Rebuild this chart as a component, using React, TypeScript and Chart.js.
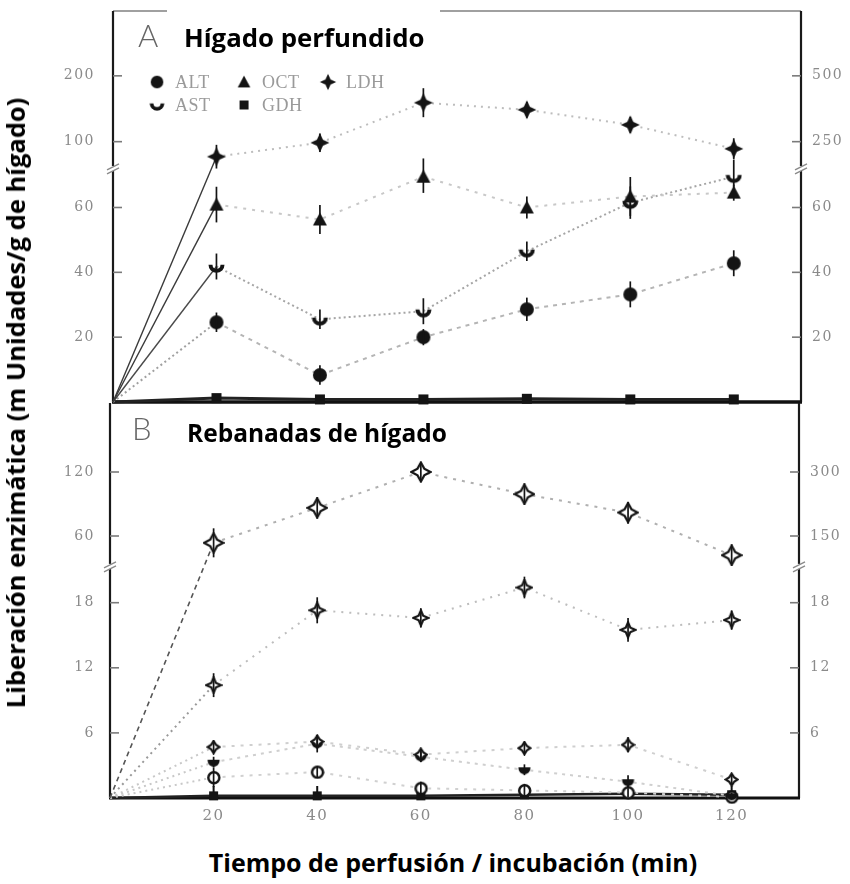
import React, { useEffect, useRef } from 'react';
import { Chart, registerables, LinearScale } from 'chart.js';

Chart.register(...registerables);

// ---------- data ----------
const TIMES = [0, 20, 40, 60, 80, 100, 120];
const X_TICKS = [20, 40, 60, 80, 100, 120];
const LEGEND_LABELS = ['ALT', 'OCT', 'LDH', 'AST', 'GDH'];

// Panel A (perfused liver)
const A_ALT = [0, 24.6, 8.3, 20, 28.6, 33.2, 42.8];
const A_AST = [0, 41.8, 25.5, 28, 46.5, 61.5, 69.5];
const A_OCT = [0, 60.9, 56.3, 69.5, 60, 63.4, 64.6];
const A_LDH = [0, 193, 246, 398, 371, 314, 223];
const A_GDH = [0, 1.2, 0.8, 0.8, 1.0, 0.8, 0.8];
const A_ALT_ERR = [0, 3, 3, 2.5, 3.6, 4, 4];
const A_AST_ERR = [0, 4, 3, 4, 3, 5, 3];
const A_OCT_ERR = [0, 5.5, 4.5, 5, 3.4, 6, 2.5];
const A_LDH_ERR = [0, 45, 35, 55, 30, 30, 40];
const A_LEFT_TICKS = [20, 40, 60, 100, 200];
const A_RIGHT_TICKS = [20, 40, 60, 250, 500];

// Panel B (liver slices)
const B_LDH = [0, 134, 216, 300, 248, 205, 105];
const B_OCT = [0, 10.4, 17.3, 16.6, 19.4, 15.5, 16.4];
const B_DIA = [0, 4.7, 5.2, 4.0, 4.6, 4.9, 1.7];
const B_AST = [0, 3.3, 5.0, 3.8, 2.6, 1.5, 0.2];
const B_ALT = [0, 1.9, 2.4, 0.9, 0.7, 0.5, 0.1];
const B_GDH = [0, 0.2, 0.2, 0.2, 0.3, 0.4, 0.3];
const B_LDH_ERR = [0, 34, 25, 23, 25, 25, 25];
const B_OCT_ERR = [0, 1.1, 1.2, 0.9, 1.0, 1.1, 0.9];
const B_DIA_ERR = [0, 0.6, 0.6, 0.5, 0.6, 0.7, 0.5];
const B_AST_ERR = [0, 0.5, 0.8, 0.5, 0.5, 0.6, 0];
const B_ALT_ERR = [0, 0.9, 0.5, 0.6, 0.6, 0.4, 0.4];
const B_LEFT_TICKS = [6, 12, 18, 60, 120];
const B_RIGHT_TICKS = [6, 12, 18, 150, 300];

// broken-axis configurations
const BRK_A_L = { qMax: 392, lowK: 3.25, lowMax: 71.7, upV1: 100, upQ1: 261, upV2: 200, upQ2: 327 };
const BRK_A_R = { qMax: 392, lowK: 3.25, lowMax: 71.7, upV1: 250, upQ1: 261, upV2: 500, upQ2: 327 };
const BRK_B_L = { qMax: 395, lowK: 10.85, lowMax: 21.3, upV1: 60, upQ1: 262, upV2: 120, upQ2: 326 };
const BRK_B_R = { qMax: 395, lowK: 10.85, lowMax: 21.3, upV1: 150, upQ1: 262, upV2: 300, upQ2: 326 };

// ---------- broken linear scale ----------
class BrokenScale extends LinearScale {
  static id = 'broken';
  static defaults = LinearScale.defaults;
  determineDataLimits() {
    const o: any = (this as any).options;
    (this as any).min = 0;
    (this as any).max = o.qMax;
  }
  buildTicks() {
    const o: any = (this as any).options;
    return (o.tickValues || []).map((v: number) => ({ value: v }));
  }
  mapValue(v: number) {
    const o: any = (this as any).options;
    if (v <= o.lowMax) return v * o.lowK;
    return o.upQ1 + ((v - o.upV1) * (o.upQ2 - o.upQ1)) / (o.upV2 - o.upV1);
  }
  getPixelForValue(v: any) {
    if (v === null || v === undefined || isNaN(v)) return NaN;
    const o: any = (this as any).options;
    return (this as any).getPixelForDecimal(this.mapValue(v) / o.qMax);
  }
  getValueForPixel(p: number) {
    const o: any = (this as any).options;
    return (this as any).getDecimalForPixel(p) * o.qMax;
  }
}
Chart.register(BrokenScale as any);

// ---------- markers ----------
function mk(w: number, h: number, draw: (g: CanvasRenderingContext2D, w: number, h: number) => void) {
  const c = document.createElement('canvas');
  c.width = w;
  c.height = h;
  const g = c.getContext('2d') as CanvasRenderingContext2D;
  draw(g, w, h);
  return c;
}
const INK = '#141414';
function dot(d: number) {
  const s = d + 2;
  return mk(s, s, (g) => { g.beginPath(); g.arc(s / 2, s / 2, d / 2, 0, Math.PI * 2); g.fillStyle = INK; g.fill(); });
}
function ring(d: number, lw: number) {
  const s = d + lw + 2;
  return mk(s, s, (g) => {
    g.beginPath(); g.arc(s / 2, s / 2, d / 2, 0, Math.PI * 2);
    g.fillStyle = '#fff'; g.fill(); g.lineWidth = lw; g.strokeStyle = INK; g.stroke();
  });
}
function tri(d: number) {
  return mk(d, d, (g, w, h) => {
    g.beginPath(); g.moveTo(w / 2, 1); g.lineTo(w - 1, h - 2); g.lineTo(1, h - 2); g.closePath();
    g.fillStyle = INK; g.fill();
  });
}
function sq(d: number) {
  return mk(d, d, (g, w, h) => { g.fillStyle = INK; g.fillRect(1, 1, w - 2, h - 2); });
}
function star(d: number, inner: number, filled: boolean) {
  return mk(d, d, (g, w) => {
    const c = w / 2, r = w / 2 - 1.5, ri = r * inner;
    g.beginPath();
    for (let i = 0; i < 8; i++) {
      const a = -Math.PI / 2 + (i * Math.PI) / 4;
      const rr = i % 2 === 0 ? r : ri;
      const px = c + rr * Math.cos(a), py = c + rr * Math.sin(a);
      if (i === 0) g.moveTo(px, py); else g.lineTo(px, py);
    }
    g.closePath();
    if (filled) { g.fillStyle = INK; g.fill(); }
    else { g.fillStyle = '#fff'; g.fill(); g.lineWidth = 2.2; g.strokeStyle = INK; g.stroke(); }
  });
}
function cup(d: number, filled: boolean) {
  return mk(d, d, (g, w, h) => {
    const c = w / 2, r = w / 2 - 2.5;
    g.beginPath();
    g.arc(c, h * 0.4, r, 0, Math.PI);
    if (filled) { g.closePath(); g.fillStyle = INK; g.fill(); g.lineWidth = 2; g.strokeStyle = INK; g.stroke(); }
    else { g.lineWidth = 4; g.strokeStyle = INK; g.stroke(); }
  });
}

// ---------- helpers ----------
type SegStyle = { dash: number[]; color: string; width: number };
function series(label: string, ys: number[], yAxisID: string, marker: any, first: SegStyle, rest: SegStyle, errors?: number[]) {
  return {
    type: 'line' as const,
    label,
    data: TIMES.map((x, i) => ({ x, y: ys[i] })),
    yAxisID,
    xAxisID: 'x',
    clip: false,
    tension: 0,
    pointStyle: TIMES.map((_, i) => (i === 0 ? false : marker)),
    pointRadius: 7,
    borderColor: rest.color,
    borderWidth: rest.width,
    segment: {
      borderDash: (c: any) => (c.p0DataIndex === 0 ? first.dash : rest.dash),
      borderColor: (c: any) => (c.p0DataIndex === 0 ? first.color : rest.color),
      borderWidth: (c: any) => (c.p0DataIndex === 0 ? first.width : rest.width),
    },
    errors,
  };
}

function yAxis(pos: 'left' | 'right', width: number, pad: number, brk: any, ticks: number[]) {
  return {
    type: 'broken',
    position: pos,
    ...brk,
    tickValues: ticks,
    afterFit: (s: any) => { s.width = width; s.paddingTop = 0; s.paddingBottom = 0; },
    grid: { display: false, drawTicks: false },
    border: { display: false },
    ticks: {
      autoSkip: false,
      padding: pad,
      color: '#8a8a8a',
      font: { family: 'DejaVu Serif', size: 14 },
      callback: (v: any) => String(v),
    },
  };
}

const spacingPlugin = {
  id: 'spacing',
  beforeDraw(chart: any) { chart.ctx.letterSpacing = '1.5px'; },
  afterDraw(chart: any) { chart.ctx.letterSpacing = '0px'; },
};

const errorBarPlugin = {
  id: 'errbars',
  afterDatasetsDraw(chart: any) {
    const ctx = chart.ctx;
    chart.data.datasets.forEach((ds: any, i: number) => {
      if (!ds.errors) return;
      const meta = chart.getDatasetMeta(i);
      const ys = chart.scales[ds.yAxisID];
      ctx.save();
      ctx.strokeStyle = INK;
      ctx.lineWidth = 1.7;
      meta.data.forEach((pt: any, j: number) => {
        const e = ds.errors[j];
        if (!e) return;
        const v = ds.data[j].y;
        ctx.beginPath();
        ctx.moveTo(pt.x, ys.getPixelForValue(Math.max(0, v - e)));
        ctx.lineTo(pt.x, ys.getPixelForValue(v + e));
        ctx.stroke();
      });
      ctx.restore();
    });
  },
};

function makeFramePlugin(topLine: boolean, bottomWidth: number, xTicks: boolean) {
  return {
    id: 'frame',
    beforeDatasetsDraw(chart: any) {
      const { ctx, chartArea: a } = chart;
      const line = (x1: number, y1: number, x2: number, y2: number, col: string, w: number) => {
        ctx.beginPath(); ctx.moveTo(x1, y1); ctx.lineTo(x2, y2); ctx.strokeStyle = col; ctx.lineWidth = w; ctx.stroke();
      };
      ctx.save();
      if (topLine) line(a.left, a.top, a.right, a.top, '#a0a0a0', 2);
      line(a.left, a.top, a.left, a.bottom, '#1a1a1a', 2.2);
      line(a.right, a.top, a.right, a.bottom, '#1a1a1a', 2.2);
      line(a.left - 1, a.bottom, a.right + 1, a.bottom, '#111', bottomWidth);
      ['yL', 'yR'].forEach((id) => {
        const s = chart.scales[id];
        const left = s.position === 'left';
        const x0 = left ? a.left : a.right;
        s.ticks.forEach((t: any) => {
          const y = s.getPixelForValue(t.value);
          line(x0, y, x0 + (left ? 9 : -9), y, '#7a7a7a', 1.6);
        });
        const yb = a.bottom - s.options.lowMax * s.options.lowK;
        ctx.fillStyle = '#fff';
        ctx.fillRect(x0 - 2, yb - 3, 4, 5);
        line(x0 - 6, yb + 1, x0 + 6, yb - 5, '#8a8a8a', 1.4);
        line(x0 - 6, yb + 5, x0 + 6, yb - 1, '#8a8a8a', 1.4);
      });
      if (xTicks) {
        const xs = chart.scales.x;
        xs.ticks.forEach((t: any) => {
          const x = xs.getPixelForValue(t.value);
          line(x, a.bottom, x, a.bottom - 12, '#111', 2);
        });
      }
      ctx.restore();
    },
  };
}

export default function App() {
  const aRef = useRef<HTMLCanvasElement>(null);
  const bRef = useRef<HTMLCanvasElement>(null);

  useEffect(() => {
    const M = {
      aALT: dot(14), aOCT: tri(16), aLDH: star(22, 0.45, true), aAST: cup(17, false), aGDH: sq(12),
      bLDH: star(22, 0.5, false), bOCT: star(18, 0.42, false), bDIA: star(15, 0.55, false),
      bAST: cup(15, true), bALT: ring(11, 2.5), bGDH: sq(11),
    };
    const legendMarkers = [M.aALT, M.aOCT, M.aLDH, M.aAST, M.aGDH];

    const legendPlugin = {
      id: 'innerLegend',
      afterDraw(chart: any) {
        const { ctx, chartArea: a } = chart;
        const pos = [
          [44, 71], [131, 71], [215, 71],
          [44, 94], [131, 94],
        ];
        ctx.save();
        ctx.font = '18px "Liberation Serif"';
        ctx.fillStyle = '#9a9a9a';
        ctx.textBaseline = 'middle';
        ctx.letterSpacing = '0.5px';
        LEGEND_LABELS.forEach((lab, i) => {
          const mx = a.left + pos[i][0], my = a.top + pos[i][1];
          const m = legendMarkers[i];
          const sc = i === 2 ? 0.85 : 0.9;
          ctx.drawImage(m, mx - (m.width * sc) / 2, my - (m.height * sc) / 2, m.width * sc, m.height * sc);
          ctx.fillText(lab, mx + 18, my + 1);
        });
        ctx.restore();
      },
    };

    const solid = (c: string, w = 1.4): SegStyle => ({ dash: [], color: c, width: w });
    const dashed = (d: number[], c: string, w = 2): SegStyle => ({ dash: d, color: c, width: w });

    const chartA = new Chart(aRef.current as HTMLCanvasElement, {
      type: 'line',
      data: {
        datasets: [
          series('LDH', A_LDH, 'yR', M.aLDH, solid('#3a3a3a'), dashed([2, 5], '#bdbdbd'), A_LDH_ERR),
          series('OCT', A_OCT, 'yL', M.aOCT, solid('#3a3a3a'), dashed([3, 6], '#c8c8c8'), A_OCT_ERR),
          series('AST', A_AST, 'yL', M.aAST, solid('#4a4a4a'), dashed([2, 3], '#a5a5a5'), A_AST_ERR),
          series('ALT', A_ALT, 'yL', M.aALT, dashed([2, 3], '#a0a0a0'), dashed([4, 5], '#b5b5b5'), A_ALT_ERR),
          series('GDH', A_GDH, 'yL', M.aGDH, solid('#222', 3), solid('#222', 3)),
        ] as any,
      },
      options: {
        responsive: false,
        maintainAspectRatio: false,
        animation: false,
        events: [],
        layout: { padding: { top: 11, bottom: 9, left: 0, right: 0 } },
        plugins: { legend: { display: false }, tooltip: { enabled: false } },
        scales: {
          x: { type: 'linear', min: 0, max: 133, display: false },
          yL: yAxis('left', 113, 18, BRK_A_L, A_LEFT_TICKS),
          yR: yAxis('right', 49, 11, BRK_A_R, A_RIGHT_TICKS),
        } as any,
      },
      plugins: [spacingPlugin, makeFramePlugin(true, 3.5, false), errorBarPlugin, legendPlugin] as any,
    });

    const chartB = new Chart(bRef.current as HTMLCanvasElement, {
      type: 'line',
      data: {
        datasets: [
          series('LDH', B_LDH, 'yR', M.bLDH, dashed([5, 4], '#555', 1.6), dashed([3, 6], '#b0b0b0'), B_LDH_ERR),
          series('OCT', B_OCT, 'yL', M.bOCT, dashed([2, 4], '#999'), dashed([2, 6], '#bdbdbd'), B_OCT_ERR),
          series('X', B_DIA, 'yL', M.bDIA, dashed([2, 4], '#c8c8c8'), dashed([3, 6], '#cfcfcf'), B_DIA_ERR),
          series('AST', B_AST, 'yL', M.bAST, dashed([2, 4], '#c8c8c8'), dashed([3, 5], '#cfcfcf'), B_AST_ERR),
          series('ALT', B_ALT, 'yL', M.bALT, dashed([2, 4], '#c8c8c8'), dashed([3, 6], '#d0d0d0'), B_ALT_ERR),
          series('GDH', B_GDH, 'yL', M.bGDH, solid('#222', 2.5), solid('#222', 2.5)),
        ] as any,
      },
      options: {
        responsive: false,
        maintainAspectRatio: false,
        animation: false,
        events: [],
        layout: { padding: { top: 11, bottom: 0, left: 0, right: 0 } },
        plugins: { legend: { display: false }, tooltip: { enabled: false } },
        scales: {
          x: {
            type: 'linear', min: 0, max: 133,
            afterBuildTicks: (s: any) => { s.ticks = X_TICKS.map((v) => ({ value: v })); },
            afterFit: (s: any) => { s.height = 44; s.paddingLeft = 0; s.paddingRight = 0; },
            grid: { display: false, drawTicks: false },
            border: { display: false },
            ticks: {
              autoSkip: false, padding: 9, color: '#8a8a8a',
              font: { family: 'DejaVu Serif', size: 15 },
              callback: (v: any) => String(v),
            },
          },
          yL: yAxis('left', 110, 15, BRK_B_L, B_LEFT_TICKS),
          yR: yAxis('right', 51, 11, BRK_B_R, B_RIGHT_TICKS),
        } as any,
      },
      plugins: [spacingPlugin, makeFramePlugin(false, 3, true), errorBarPlugin] as any,
    });

    return () => { chartA.destroy(); chartB.destroy(); };
  }, []);

  const bold = '"Open Sans", "Lato", sans-serif';
  return (
    <div style={{ position: 'absolute', left: 0, top: 0, width: 850, height: 884, background: '#fff', overflow: 'hidden' }}>
      <canvas ref={aRef} width={850} height={412} style={{ position: 'absolute', left: 0, top: 0, width: 850, height: 412 }} />
      <canvas ref={bRef} width={850} height={450} style={{ position: 'absolute', left: 0, top: 392, width: 850, height: 450 }} />
      <div style={{ position: 'absolute', left: 167, top: 6, width: 273, height: 50, background: '#fff' }} />
      <div style={{ position: 'absolute', left: 138, top: 20, font: '300 31px "Lato", sans-serif', lineHeight: '31px', color: '#666' }}>A</div>
      <div style={{ position: 'absolute', left: 184, top: 24, font: `700 25.8px ${bold}`, lineHeight: '26px', color: '#000', whiteSpace: 'nowrap' }}>Hígado perfundido</div>
      <div style={{ position: 'absolute', left: 167, top: 406, width: 282, height: 46, background: '#fff' }} />
      <div style={{ position: 'absolute', left: 132, top: 413, font: '300 31px "Lato", sans-serif', lineHeight: '31px', color: '#666' }}>B</div>
      <div style={{ position: 'absolute', left: 187, top: 420, font: `700 24.5px ${bold}`, lineHeight: '26px', color: '#000', whiteSpace: 'nowrap' }}>Rebanadas de hígado</div>
      <div style={{ position: 'absolute', left: 15, top: 403, transform: 'translate(-50%, -50%) rotate(-90deg)', font: `700 25.5px ${bold}`, lineHeight: '28px', color: '#000', whiteSpace: 'nowrap' }}>Liberación enzimática (m Unidades/g de hígado)</div>
      <div style={{ position: 'absolute', left: 453, top: 862, transform: 'translate(-50%, -50%)', font: `700 25px ${bold}`, lineHeight: '28px', color: '#000', whiteSpace: 'nowrap' }}>Tiempo de perfusión / incubación (min)</div>
    </div>
  );
}
